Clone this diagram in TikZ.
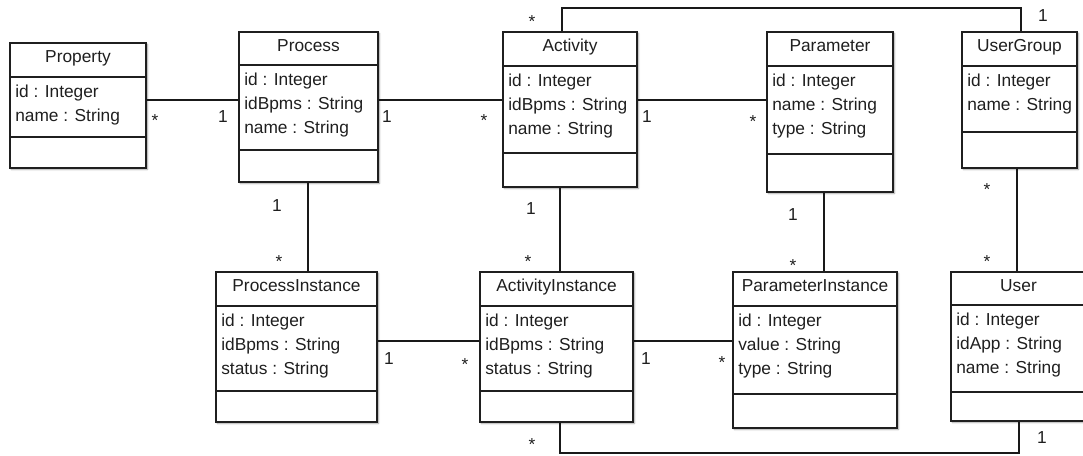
\documentclass[tikz,border=0pt]{standalone}
\usepackage{fontspec}
\setmainfont{Liberation Sans}
\usetikzlibrary{fit,calc,shadows.blur}

\tikzset{
  classbox/.style={draw=black!88, fill=white, line width=1pt, inner sep=0pt,
    blur shadow={shadow xshift=1pt, shadow yshift=-1pt, shadow blur radius=1.3pt,
                 shadow blur steps=6, shadow opacity=40}},
  sepline/.style={draw=black!88, line width=1pt},
  titletext/.style={anchor=base, inner sep=0pt, text=black!88},
  attrtext/.style={anchor=base west, inner sep=0pt, text=black!88},
  assoc/.style={draw=black!90, line width=0.8pt},
  mult/.style={anchor=base, inner sep=0pt, text=black!88},
  titlex/.store in=\titlex, titlex=,
}

% \umlclass{name}{x1}{y1}{x2}{y2}{title rule}{operations rule}{title}{attributes}
% the title is centred on \titlecx, which defaults to the middle of the box
\def\titlecx{}
\newcommand\umlclass[9]{%
  \node[classbox, fit={(#2,#3) (#4,#5)}] (#1) {};
  \draw[sepline] (#2,#6) -- (#4,#6);
  \draw[sepline] (#2,#7) -- (#4,#7);
  \ifx\titlecx\empty
    \node[titletext] (#1-title) at ({(#2+#4)/2},#3+19.5) {#8};
  \else
    \node[titletext] (#1-title) at (\titlecx,#3+19.5) {#8};
  \fi
  \foreach \a [count=\i from 0] in {#9}
    \node[attrtext] (#1-attr\i) at (#2+5,#6+20+24*\i) {\a};
}

\begin{document}
\begin{tikzpicture}[x=0.75pt, y=-0.75pt, font=\fontsize{13}{15}\selectfont]
\useasboundingbox (0,0) rectangle (1083,455);
\clip (0,0) rectangle (1083,455);

% classes
\umlclass{property}{10}{43}{146}{168}{77}{137}{Property}{id : Integer, name : String}
\umlclass{process}{239}{32}{378}{182}{65}{150}{Process}{id : Integer, idBpms : String, name : String}
\umlclass{activity}{503}{32}{637}{187}{66}{153}{Activity}{id : Integer, idBpms : String, name : String}
\umlclass{parameter}{767}{32}{893}{192}{66}{154}{Parameter}{id : Integer, name : String, type : String}
\umlclass{usergroup}{962}{32}{1077}{168}{66}{132}{UserGroup}{id : Integer, name : String}
\umlclass{procinst}{216}{272}{377}{422}{306}{391}{ProcessInstance}{id : Integer, idBpms : String, status : String}
\umlclass{actinst}{480}{272}{633}{422}{306}{391}{ActivityInstance}{id : Integer, idBpms : String, status : String}
\umlclass{paraminst}{733}{272}{897}{428}{306}{394}{ParameterInstance}{id : Integer, value : String, type : String}
% the User box runs past the right-hand edge
\def\titlecx{1018.5}
\umlclass{user}{951}{272}{1140}{421}{305}{392}{User}{id : Integer, idApp : String, name : String}
\def\titlecx{}

% routing guides
\coordinate (rowA) at (0,100);
\coordinate (rowB) at (0,341);
\coordinate (colP) at (308,0);
\coordinate (colA) at (560,0);
\coordinate (colPa) at (824,0);
\coordinate (colU) at (1017,0);
\coordinate (topL) at (562,8);
\coordinate (topR) at (1021,8);
\coordinate (botL) at (560,453);
\coordinate (botR) at (1019,453);

% associations
\draw[assoc] (property.east |- rowA) -- (process.west |- rowA);
\draw[assoc] (process.east |- rowA) -- (activity.west |- rowA);
\draw[assoc] (activity.east |- rowA) -- (parameter.west |- rowA);
\draw[assoc] (activity.north -| topL) -- (topL) -- (topR) -- (usergroup.north -| topR);
\draw[assoc] (process.south -| colP) -- (procinst.north -| colP);
\draw[assoc] (activity.south -| colA) -- (actinst.north -| colA);
\draw[assoc] (parameter.south -| colPa) -- (paraminst.north -| colPa);
\draw[assoc] (usergroup.south -| colU) -- (user.north -| colU);
\draw[assoc] (procinst.east |- rowB) -- (actinst.west |- rowB);
\draw[assoc] (actinst.east |- rowB) -- (paraminst.west |- rowB);
\draw[assoc] (actinst.south -| botL) -- (botL) -- (botR) -- (user.south -| botR);

% multiplicities
\node[mult] (m1)  at (155,126) {*};
\node[mult] (m2)  at (223,122) {1};
\node[mult] (m3)  at (387,122) {1};
\node[mult] (m4)  at (484,126) {*};
\node[mult] (m5)  at (647,122) {1};
\node[mult] (m6)  at (753,127) {*};
\node[mult] (m7)  at (532,27)  {*};
\node[mult] (m8)  at (1043,21) {1};
\node[mult] (m9)  at (277,211) {1};
\node[mult] (m10) at (279,267) {*};
\node[mult] (m11) at (531,214) {1};
\node[mult] (m12) at (528,267) {*};
\node[mult] (m13) at (793,220) {1};
\node[mult] (m14) at (793,271) {*};
\node[mult] (m15) at (987,195) {*};
\node[mult] (m16) at (987,267) {*};
\node[mult] (m17) at (389,364) {1};
\node[mult] (m18) at (465,370) {*};
\node[mult] (m19) at (646,364) {1};
\node[mult] (m20) at (722,368) {*};
\node[mult] (m21) at (532,450) {*};
\node[mult] (m22) at (1042,443) {1};
\end{tikzpicture}
\end{document}
